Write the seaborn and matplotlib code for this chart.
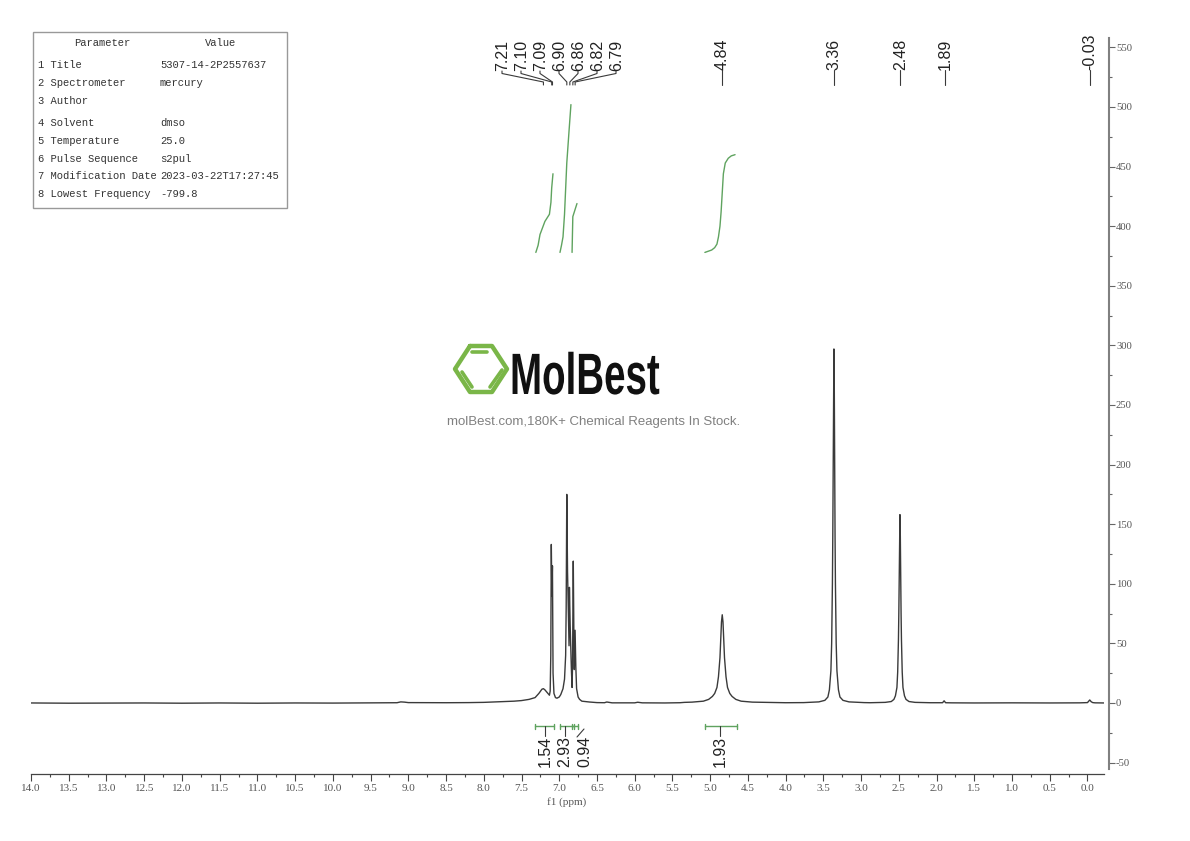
import matplotlib.pyplot as plt
import seaborn as sns
from matplotlib.ticker import MultipleLocator, FormatStrFormatter
from matplotlib.patheffects import AbstractPathEffect
from matplotlib.transforms import Affine2D

# spectrum
ppm = [14.0, 13.5, 13.0, 12.5, 12.0, 11.5, 11.0, 10.5, 10.0, 9.5, 9.15, 9.1, 9.05, 9.0, 8.5, 8.2, 8.0, 7.8, 7.6, 7.5, 7.4,
       7.32, 7.27, 7.23, 7.21, 7.19, 7.15, 7.13, 7.12, 7.112, 7.105, 7.098, 7.09, 7.082, 7.07, 7.05, 7.03, 7.0,
       6.98, 6.95, 6.93, 6.915, 6.908, 6.90, 6.89, 6.875, 6.87, 6.865, 6.855, 6.84, 6.83, 6.824, 6.814, 6.805,
       6.80, 6.79, 6.78, 6.77, 6.75, 6.73, 6.70, 6.6, 6.5, 6.4, 6.37, 6.3, 6.0, 5.96, 5.9, 5.6, 5.4, 5.34,
       5.24, 5.09, 5.02, 4.97, 4.94, 4.91, 4.89, 4.87, 4.86, 4.85, 4.84, 4.83, 4.82, 4.81, 4.79, 4.77, 4.74, 4.71, 4.66, 4.59, 4.44,
       4.0, 3.76, 3.56, 3.48, 3.44, 3.42, 3.40, 3.39, 3.38, 3.375, 3.37, 3.365, 3.36, 3.355, 3.35, 3.345, 3.34, 3.33, 3.32, 3.30,
       3.28, 3.24, 3.16, 2.96,
       2.88, 2.68, 2.6, 2.565, 2.545, 2.525, 2.515, 2.505, 2.5, 2.495, 2.49, 2.485, 2.48, 2.475, 2.47, 2.465, 2.455, 2.445,
       2.425, 2.405, 2.365, 2.285, 2.085,
       1.92, 1.9, 1.88, 1.8, 1.5, 1.0, 0.5, 0.1, 0.0, -0.01, -0.03, -0.05, -0.07, -0.1, -0.22]
intensity = [0.0, -0.2, -0.1, 0.0, -0.2, 0.0, -0.2, 0.0, -0.1, 0.1, 0.2, 0.9, 0.7, 0.3, 0.2, 0.3, 0.5, 1.0, 1.5, 2.0, 3.0,
             4.5, 8.0, 11.5, 12.0, 11.0, 8.0, 6.5, 10.0, 40.0, 133.0, 90.0, 115.0, 25.0, 8.0, 4.5, 4.0, 5.0,
             7.0, 12.0, 20.0, 40.0, 80.0, 175.0, 110.0, 60.0, 48.0, 97.0, 65.0, 30.0, 13.0, 30.0, 119.0, 50.0,
             28.0, 61.0, 30.0, 12.0, 5.0, 3.0, 1.5, 0.8, 0.3, 0.2, 0.8, 0.1, 0.1, 0.6, 0.1, 0.0, 0.2, 0.5,
             0.7, 1.5, 3.0, 5.5, 8.0, 13.0, 22.0, 38.0, 54.0, 68.0, 74.0, 68.0, 54.0, 38.0, 22.0, 13.0, 8.0, 5.5, 3.0, 1.5, 0.7,
             0.2, 0.3, 0.9, 2.2, 5.0, 11.0, 27.0, 50.0, 100.0, 140.0, 198.0, 264.0, 297.0, 264.0, 198.0, 140.0, 100.0, 50.0, 27.0, 11.0,
             5.0, 2.2, 0.9, 0.3,
             0.2, 0.5, 1.2, 3.0, 6.0, 13.0, 26.0, 53.0, 75.0, 105.0, 140.0, 158.0, 140.0, 105.0, 75.0, 53.0, 26.0, 13.0,
             6.0, 3.0, 1.2, 0.5, 0.2,
             0.2, 1.8, 0.2, 0.1, 0.0, 0.1, 0.0, 0.1, 0.3, 1.0, 2.5, 1.0, 0.3, 0.1, 0.0]

peak_group = [7.21, 7.10, 7.09, 6.90, 6.86, 6.82, 6.79]
single_peaks = [4.84, 3.36, 2.48, 1.89, -0.03]

# integral curves (ppm, height on the same scale)
int1_x = [7.31, 7.28, 7.255, 7.19, 7.13, 7.11, 7.10, 7.083]
int1_y = [378, 384, 393, 404, 410, 420, 432, 444]
int2_x = [6.99, 6.97, 6.95, 6.93, 6.90, 6.87, 6.845]
int2_y = [378, 384, 391, 410, 453, 480, 502]
int3_x = [6.83, 6.82, 6.80, 6.765]
int3_y = [378, 408, 412, 419]
int4_x = [5.07, 4.98, 4.94, 4.91, 4.89, 4.87, 4.855, 4.84, 4.825, 4.80, 4.76, 4.72, 4.67]
int4_y = [378, 380, 382, 385, 391, 400, 412, 428, 444, 453, 457, 459, 460]

int_values = ["1.54", "2.93", "0.94", "1.93"]
int_ranges = [(7.32, 7.07), (6.99, 6.805), (6.83, 6.75), (5.07, 4.65)]

table_params = ["1 Title", "2 Spectrometer", "3 Author", "4 Solvent", "5 Temperature",
                "6 Pulse Sequence", "7 Modification Date", "8 Lowest Frequency"]
table_values = ["5307-14-2P2557637", "mercury", "", "dmso", "25.0", "s2pul",
                "2023-03-22T17:27:45", "-799.8"]
table_rows = [65, 83, 101, 123, 141, 159, 176, 194]


# squeezes a text sideways, the logo lettering is a condensed face we don't have
class SqueezeX(AbstractPathEffect):
    def __init__(self, sx, x0):
        super().__init__()
        self.sx = sx
        self.x0 = x0

    def draw_path(self, renderer, gc, tpath, affine, rgbFace=None):
        squeeze = Affine2D().translate(-self.x0, 0).scale(self.sx, 1).translate(self.x0, 0)
        renderer.draw_path(gc, tpath, affine + squeeze, rgbFace)


sns.set_theme(style="white")
plt.rcParams['font.family'] = ['Liberation Sans', 'DejaVu Sans']
plt.rcParams['axes.unicode_minus'] = False
mono = 'Liberation Mono'
serif = 'Liberation Serif'
line_col = '#3a3a3a'
green = '#5fa35f'

fig = plt.figure(figsize=(11.9, 8.41), dpi=100)
# axes box in pixels: x 31..1104, y 30..774
ax = fig.add_axes([31 / 1190, 1 - 774 / 841, (1104 - 31) / 1190, (774 - 30) / 841])

sns.lineplot(x=ppm, y=intensity, sort=False, estimator=None, color=line_col, linewidth=1.0, ax=ax)
for xs, ys in [(int1_x, int1_y), (int2_x, int2_y), (int3_x, int3_y), (int4_x, int4_y)]:
    sns.lineplot(x=xs, y=ys, sort=False, estimator=None, color=green, linewidth=1.0, ax=ax)

ax.set_xlim(14.0, -0.219)
ax.set_ylim(-59.6, 564.6)
ax.patch.set_alpha(0)

ax.xaxis.set_major_locator(MultipleLocator(0.5))
ax.xaxis.set_minor_locator(MultipleLocator(0.25))
ax.xaxis.set_major_formatter(FormatStrFormatter('%.1f'))
ax.yaxis.set_major_locator(MultipleLocator(50))
ax.yaxis.set_minor_locator(MultipleLocator(25))
ax.yaxis.tick_right()
ax.tick_params(axis='x', which='major', direction='out', bottom=True, length=5, width=0.8, color='#444444',
               labelsize=8, labelcolor='#555555', labelfontfamily=serif, pad=2)
ax.tick_params(axis='x', which='minor', direction='out', bottom=True, length=1.8, width=0.8, color='#444444')
ax.tick_params(axis='y', which='major', direction='out', right=True, left=False, length=4, width=0.8,
               color='#666666', labelsize=7.7, labelcolor='#555555', labelfontfamily=serif, pad=1)
ax.tick_params(axis='y', which='minor', direction='out', right=True, left=False, length=1.8, width=0.8,
               color='#666666')

for s in ['top', 'left']:
    ax.spines[s].set_visible(False)
ax.spines['bottom'].set_color('#444444')
ax.spines['bottom'].set_linewidth(0.9)
ax.spines['right'].set_position(('outward', 3.6))
ax.spines['right'].set_color('#808080')
ax.spines['right'].set_linewidth(1.5)
ax.spines['right'].set_bounds(-55, 558)
ax.set_xlabel('')
ax.set_ylabel('')


def ppm_px(v):
    return 1087.5 - v * 75.46


# overlay in picture pixels for labels and the table
ov = fig.add_axes([0, 0, 1, 1])
ov.set_xlim(0, 1190)
ov.set_ylim(841, 0)
ov.axis('off')

ov.text(567, 802, 'f1 (ppm)', family=serif, fontsize=8, color='#555555', ha='center', va='center')

# peak labels
for i, p in enumerate(peak_group):
    lx = 502 + 19 * i
    tip = ppm_px(p)
    ov.plot([lx, lx, tip, tip], [71, 73.5, 82, 85], color=line_col, lw=0.8)
    ov.text(lx + 0.5, 71, f'{p:.2f}', rotation=90, ha='center', va='bottom', fontsize=11.5, color='#222222')
for p in single_peaks:
    lx = ppm_px(p)
    ov.plot([lx, lx], [70, 85], color=line_col, lw=0.8)
    ov.text(lx, 70, f'{p:.2f}', rotation=90, ha='center', va='bottom', fontsize=11.5, color='#222222')

# integral brackets
label_px = [545, 565, 585, 720]
for (a, b), val, lx in zip(int_ranges, int_values, label_px):
    x0, x1 = ppm_px(a), ppm_px(b)
    ov.plot([x0, x1], [726, 726], color=green, lw=1.0)
    ov.plot([x0, x0], [723.5, 729], color=green, lw=1.0)
    ov.plot([x1, x1], [723.5, 729], color=green, lw=1.0)
    if val == "0.94":
        ov.plot([577, 584], [737, 729], color=line_col, lw=0.8)
    else:
        ov.plot([lx, lx], [726, 736], color=line_col, lw=0.8)
    ov.text(lx, 736, val, rotation=90, ha='center', va='top', fontsize=11.5, color='#222222')

# parameter table
ov.add_patch(plt.Rectangle((33, 32), 254, 176, fill=False, edgecolor='#999999', lw=1.0))
ov.text(102, 43, 'Parameter', family=mono, fontsize=7.6, color='#333333', ha='center', va='center')
ov.text(221, 43, 'Value', family=mono, fontsize=7.6, color='#333333', ha='center', va='center')
for name, val, y in zip(table_params, table_values, table_rows):
    ov.text(38, y, name, family=mono, fontsize=7.6, color='#333333', va='center')
    ov.text(160, y, val, family=mono, fontsize=7.6, color='#333333', va='center')

# logo
hex_x = [470, 492, 507, 492, 470, 455, 470]
hex_y = [346, 346, 369, 392, 392, 369, 346]
ov.plot(hex_x, hex_y, color='#7ab648', lw=3.2, solid_joinstyle='round')
ov.plot([472, 487], [352, 352], color='#7ab648', lw=2.6)
ov.plot([462, 472], [372, 387], color='#7ab648', lw=2.6)
ov.plot([490, 502], [387, 370], color='#7ab648', lw=2.6)
ov.text(510, 394, 'MolBest', fontsize=42, fontweight='bold', color='#111111', ha='left', va='baseline',
        path_effects=[SqueezeX(0.66, 510)])
ov.text(594, 421.5, 'molBest.com,180K+ Chemical Reagents In Stock.', fontsize=9.5, color='#808080',
        ha='center', va='center')

fig.savefig('out.png', dpi=100)
